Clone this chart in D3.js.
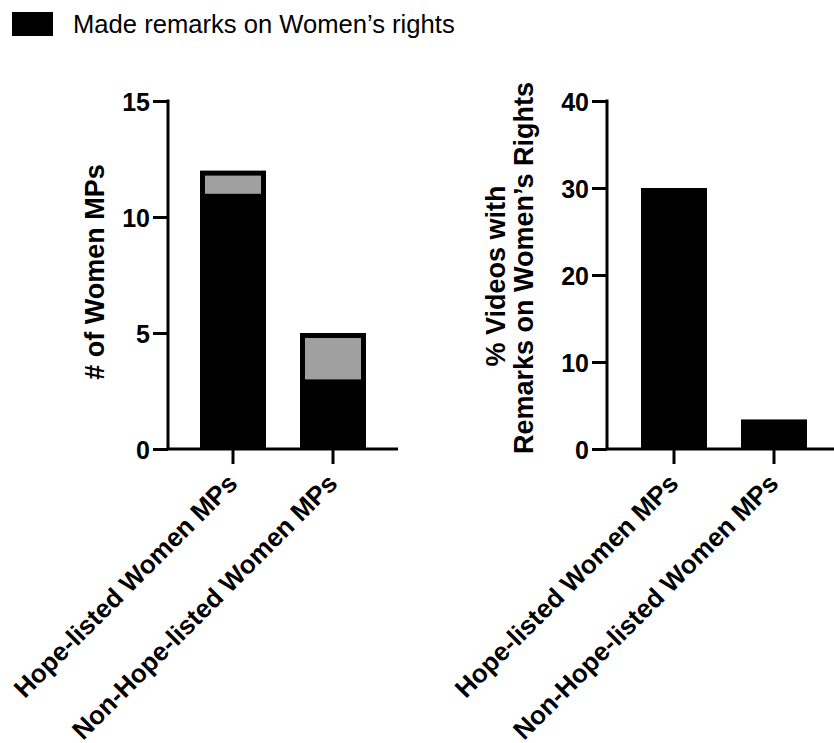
<!DOCTYPE html>
<html>
<head>
<meta charset="utf-8">
<script src="https://cdn.jsdelivr.net/npm/d3@7"></script>
<style>
  html, body { margin: 0; padding: 0; background: #fff; }
  svg { display: block; }
  text { font-family: "Liberation Sans", Arial, Helvetica, sans-serif; fill: #000; }
</style>
</head>
<body>
<svg id="chart" width="834" height="743"></svg>
<script>
// ---- data ----
const categories = ["Hope-listed Women MPs", "Non-Hope-listed Women MPs"];
const totalMPs = [12, 5];          // total women MPs (bar height)
const madeRemarks = [11, 3];       // MPs who made remarks on women's rights (black part)
const pctVideos = [30, 3.4];       // % videos with remarks on women's rights
const leftTicks = [0, 5, 10, 15];
const rightTicks = [0, 10, 20, 30, 40];
const legendLabel = "Made remarks on Women\u2019s rights";
const leftTitle = "# of Women MPs";
const rightTitle = ["% Videos with", "Remarks on Women\u2019s Rights"];

const svg = d3.select("#chart");
const grayFill = "#a0a0a0";
const axisW = 3;

// legend
svg.append("rect").attr("x", 12).attr("y", 12).attr("width", 41).attr("height", 24).attr("fill", "#000");
svg.append("text").attr("x", 73).attr("y", 33).attr("font-size", 25.6).text(legendLabel);

function styleAxis(g) {
  g.selectAll("path.domain").remove();
  g.selectAll(".tick line").attr("stroke", "#000").attr("stroke-width", axisW);
  g.selectAll(".tick text").attr("font-size", 25).attr("font-weight", "bold")
    .attr("font-family", "'Liberation Sans', Arial, sans-serif").attr("fill", "#000");
}

function drawPanel(opts) {
  const { axisX, xRange, yDomain, ticks } = opts;
  const y = d3.scaleLinear().domain(yDomain).range([449, 101]);
  const x = d3.scaleBand().domain(categories).range(xRange).paddingInner(0.34).paddingOuter(0.32);
  const g = svg.append("g");

  opts.drawBars(g, x, y);

  // y axis
  const ya = g.append("g").attr("transform", `translate(${axisX},0)`)
    .call(d3.axisLeft(y).tickValues(ticks).tickSize(15).tickSizeOuter(0).tickPadding(3));
  styleAxis(ya);
  ya.selectAll(".tick text").attr("dy", "0.36em");
  g.append("line").attr("x1", axisX).attr("x2", axisX).attr("y1", y(yDomain[1]) - 1.5).attr("y2", y(0))
    .attr("stroke", "#000").attr("stroke-width", axisW);

  // x axis
  const xa = g.append("g").attr("transform", `translate(0,${y(0)})`)
    .call(d3.axisBottom(x).tickSize(15).tickSizeOuter(0));
  styleAxis(xa);
  xa.selectAll(".tick text")
    .attr("text-anchor", "end")
    .attr("y", 0).attr("dy", 0)
    .attr("transform", "translate(6,36) rotate(-45)")
    .attr("font-size", 26);
  g.append("line").attr("x1", axisX - 1.5).attr("x2", xRange[1]).attr("y1", y(0)).attr("y2", y(0))
    .attr("stroke", "#000").attr("stroke-width", axisW);
  return { x, y };
}

// left panel
drawPanel({
  axisX: 168, xRange: [168, 398], yDomain: [0, 15], ticks: leftTicks,
  drawBars: (g, x, y) => {
    categories.forEach((c, i) => {
      const bx = x(c), bw = x.bandwidth();
      g.append("rect").attr("x", bx).attr("y", y(totalMPs[i])).attr("width", bw)
        .attr("height", y(0) - y(totalMPs[i])).attr("fill", "#000");
      const inset = 5;
      g.append("rect").attr("x", bx + inset).attr("y", y(totalMPs[i]) + inset).attr("width", bw - 2 * inset)
        .attr("height", Math.max(0, y(madeRemarks[i]) - y(totalMPs[i]) - inset)).attr("fill", grayFill);
    });
  }
});
svg.append("text").attr("transform", "translate(104,272) rotate(-90)")
  .attr("text-anchor", "middle").attr("font-size", 27).attr("font-weight", "bold").text(leftTitle);

// right panel
drawPanel({
  axisX: 607, xRange: [609, 839], yDomain: [0, 40], ticks: rightTicks,
  drawBars: (g, x, y) => {
    categories.forEach((c, i) => {
      g.append("rect").attr("x", x(c)).attr("y", y(pctVideos[i])).attr("width", x.bandwidth())
        .attr("height", y(0) - y(pctVideos[i])).attr("fill", "#000");
    });
  }
});
svg.append("text").attr("transform", "translate(505,276) rotate(-90)")
  .attr("text-anchor", "middle").attr("font-size", 27).attr("font-weight", "bold").text(rightTitle[0]);
svg.append("text").attr("transform", "translate(533,268) rotate(-90)")
  .attr("text-anchor", "middle").attr("font-size", 27).attr("font-weight", "bold").text(rightTitle[1]);
</script>
</body>
</html>
